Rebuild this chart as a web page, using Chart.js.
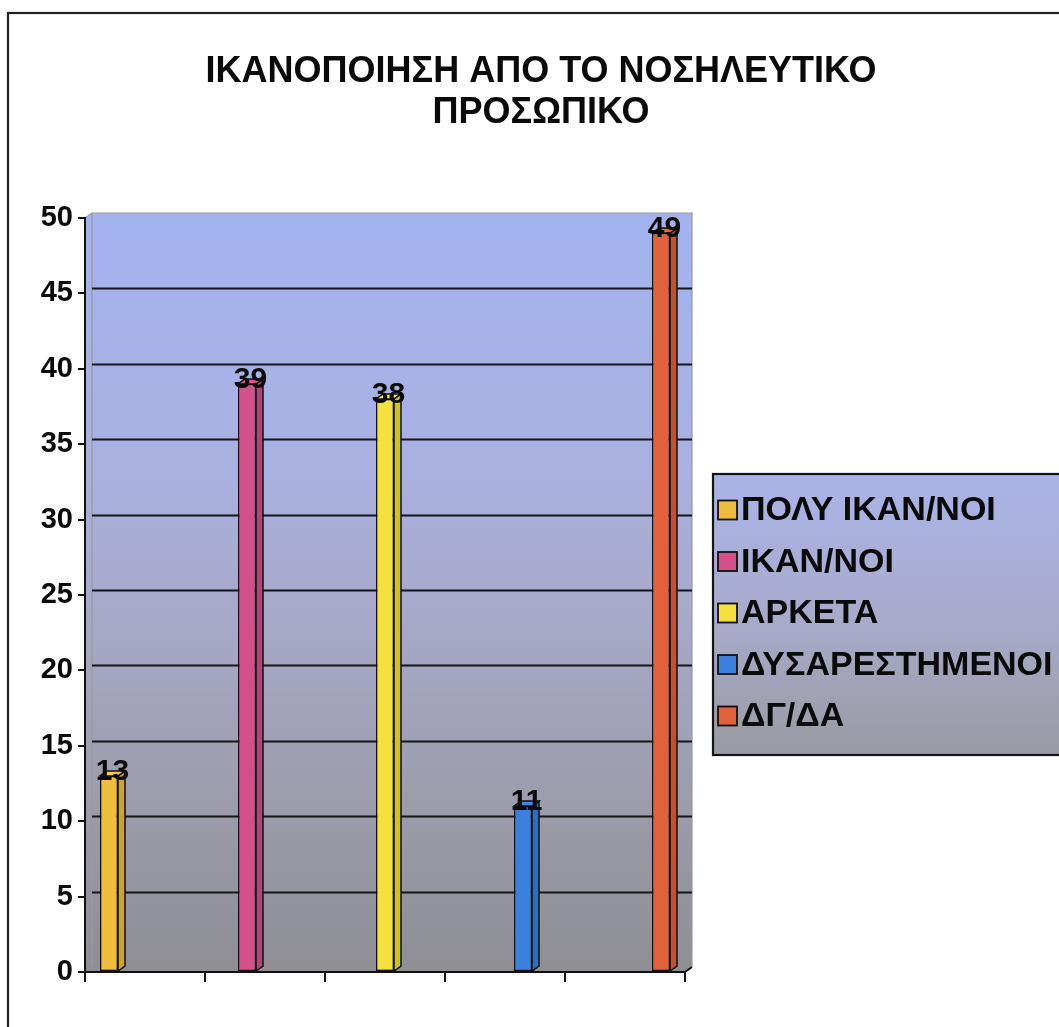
<!DOCTYPE html>
<html>
<head>
<meta charset="utf-8">
<script src="https://cdn.jsdelivr.net/npm/chart.js@4/dist/chart.umd.min.js"></script>
<style>
  html, body { margin: 0; padding: 0; background: #ffffff; overflow: hidden; }
  #wrap { width: 1059px; height: 1027px; }
  canvas { display: block; }
</style>
</head>
<body>
<div id="wrap"><canvas id="chart" width="1059" height="1027"></canvas></div>
<script>
// ---- data ----
const titleLines = ['ΙΚΑΝΟΠΟΙΗΣΗ ΑΠΟ ΤΟ ΝΟΣΗΛΕΥΤΙΚΟ', 'ΠΡΟΣΩΠΙΚΟ'];
const categories = ['', '', '', '', ''];
const seriesNames = ['ΠΟΛΥ ΙΚΑΝ/ΝΟΙ', 'ΙΚΑΝ/ΝΟΙ', 'ΑΡΚΕΤΑ', 'ΔΥΣΑΡΕΣΤΗΜΕΝΟΙ', 'ΔΓ/ΔΑ'];
const seriesValues = [13, 39, 38, 11, 49];
const seriesColors = ['#f0be3e', '#d4508a', '#f5e03e', '#3a80dc', '#e0623c'];
const yMin = 0, yMax = 50, yStep = 5;

// ---- look ----
const FONT = '"Liberation Sans", Arial, Helvetica, sans-serif';
const WALL_DX = 7, WALL_DY = 5;   // depth of the back wall
const BAR_DX = 7, BAR_DY = 5;     // depth of each bar

function shade(hex, f) {
  const n = parseInt(hex.slice(1), 16);
  let r = (n >> 16) & 255, g = (n >> 8) & 255, b = n & 255;
  r = Math.round(r * f); g = Math.round(g * f); b = Math.round(b * f);
  return `rgb(${Math.min(255, r)},${Math.min(255, g)},${Math.min(255, b)})`;
}

// one dataset per answer, each occupying its own category slot
const datasets = seriesNames.map((name, i) => ({
  label: name,
  data: categories.map((_, j) => (j === i ? seriesValues[i] : null)),
  backgroundColor: seriesColors[i],
  borderColor: '#111111',
  borderWidth: 1.5,
  borderSkipped: false,
  categoryPercentage: 0.75,
  barPercentage: 1.0
}));

const depthPlugin = {
  id: 'depth3d',
  beforeDraw(chart) {
    const ctx = chart.ctx;
    const { left: L, right: R, top: T, bottom: B } = chart.chartArea;
    ctx.save();
    ctx.fillStyle = '#ffffff';
    ctx.fillRect(0, 0, chart.width, chart.height);

    // outer frame
    ctx.strokeStyle = '#222222';
    ctx.lineWidth = 2.2;
    ctx.strokeRect(8, 13, chart.width + 40, chart.height + 40);

    // back wall + side wall with the blue-to-grey fill
    const g = ctx.createLinearGradient(0, T - WALL_DY, 0, B);
    g.addColorStop(0, '#a3b3f0');
    g.addColorStop(0.33, '#a9b1e0');
    g.addColorStop(0.55, '#a7a8c6');
    g.addColorStop(0.78, '#9c9cab');
    g.addColorStop(1, '#8e8e93');
    ctx.beginPath();
    ctx.moveTo(L, T);
    ctx.lineTo(L + WALL_DX, T - WALL_DY);
    ctx.lineTo(R + WALL_DX, T - WALL_DY);
    ctx.lineTo(R + WALL_DX, B - WALL_DY);
    ctx.lineTo(R, B);
    ctx.lineTo(L, B);
    ctx.closePath();
    ctx.fillStyle = g;
    ctx.fill();

    // light edges of the wall
    ctx.strokeStyle = '#9a9aa0';
    ctx.lineWidth = 1.2;
    ctx.beginPath();
    ctx.moveTo(L, T);
    ctx.lineTo(L + WALL_DX, T - WALL_DY);
    ctx.lineTo(R + WALL_DX, T - WALL_DY);
    ctx.lineTo(R + WALL_DX, B - WALL_DY);
    ctx.moveTo(L + WALL_DX, T - WALL_DY);
    ctx.lineTo(L + WALL_DX, B - WALL_DY);
    ctx.stroke();

    // gridlines on the back wall
    const yScale = chart.scales.y;
    ctx.strokeStyle = '#151515';
    ctx.lineWidth = 2;
    yScale.ticks.forEach(t => {
      if (t.value <= yMin || t.value >= yMax) return;
      const y = Math.round(yScale.getPixelForValue(t.value) - WALL_DY) + 0.5;
      ctx.beginPath();
      ctx.moveTo(L + WALL_DX, y);
      ctx.lineTo(R + WALL_DX, y);
      ctx.stroke();
    });
    ctx.restore();
  },
  afterDatasetsDraw(chart) {
    const ctx = chart.ctx;
    ctx.save();
    chart.data.datasets.forEach((ds, i) => {
      const meta = chart.getDatasetMeta(i);
      meta.data.forEach((el, j) => {
        const v = ds.data[j];
        if (v === null || v === undefined) return;
        const { x, y, base, width } = el.getProps(['x', 'y', 'base', 'width'], true);
        const l = x - width / 2, r = x + width / 2;
        ctx.lineWidth = 1.5;
        ctx.strokeStyle = '#111111';
        // side face
        ctx.beginPath();
        ctx.moveTo(r, y);
        ctx.lineTo(r + BAR_DX, y - BAR_DY);
        ctx.lineTo(r + BAR_DX, base - BAR_DY);
        ctx.lineTo(r, base);
        ctx.closePath();
        ctx.fillStyle = shade(seriesColors[i], 0.85);
        ctx.fill();
        ctx.stroke();
        // top face
        ctx.beginPath();
        ctx.moveTo(l, y);
        ctx.lineTo(l + BAR_DX, y - BAR_DY);
        ctx.lineTo(r + BAR_DX, y - BAR_DY);
        ctx.lineTo(r, y);
        ctx.closePath();
        ctx.fillStyle = shade(seriesColors[i], 1.05);
        ctx.fill();
        ctx.stroke();
        // value label
        ctx.fillStyle = '#0a0a0a';
        ctx.font = `bold 30px ${FONT}`;
        ctx.textAlign = 'center';
        ctx.textBaseline = 'middle';
        ctx.fillText(String(v), (l + r + BAR_DX) / 2, y - 4);
      });
    });
    ctx.restore();
  },
  afterDraw(chart) {
    const ctx = chart.ctx;
    const { right: R, bottom: B } = chart.chartArea;
    ctx.save();
    // floor edge at the far end of the category axis
    ctx.strokeStyle = '#111111';
    ctx.lineWidth = 2;
    ctx.beginPath();
    ctx.moveTo(R, B);
    ctx.lineTo(R + WALL_DX, B - WALL_DY);
    ctx.stroke();

    // title
    ctx.fillStyle = '#0a0a0a';
    ctx.font = `bold 36px ${FONT}`;
    ctx.textAlign = 'center';
    ctx.textBaseline = 'middle';
    ctx.fillText(titleLines[0], 541, 72);
    ctx.fillText(titleLines[1], 541, 113);

    // legend box
    const bx = 713, by = 474, bw = 400, bh = 281;
    const lg = ctx.createLinearGradient(0, by, 0, by + bh);
    lg.addColorStop(0, '#a9b4e8');
    lg.addColorStop(0.5, '#a9abcc');
    lg.addColorStop(1, '#9a9aa2');
    ctx.fillStyle = lg;
    ctx.fillRect(bx, by, bw, bh);
    ctx.strokeStyle = '#151515';
    ctx.lineWidth = 2.2;
    ctx.strokeRect(bx, by, bw, bh);

    chart.data.datasets.forEach((ds, i) => {
      const cy = 510 + i * 51.5;
      ctx.fillStyle = ds.backgroundColor;
      ctx.fillRect(718, cy - 9.5, 19, 19);
      ctx.strokeStyle = '#111111';
      ctx.lineWidth = 1.8;
      ctx.strokeRect(718, cy - 9.5, 19, 19);
      ctx.fillStyle = '#0a0a0a';
      ctx.font = `bold 34px ${FONT}`;
      ctx.textAlign = 'left';
      ctx.textBaseline = 'middle';
      ctx.fillText(ds.label, 741, cy + 1);
    });
    ctx.restore();
  }
};

new Chart(document.getElementById('chart'), {
  type: 'bar',
  data: { labels: categories, datasets },
  options: {
    responsive: false,
    animation: false,
    devicePixelRatio: 1,
    layout: { padding: { left: 8, top: 218, right: 374, bottom: 45 } },
    plugins: {
      legend: { display: false },
      title: { display: false },
      tooltip: { enabled: false }
    },
    scales: {
      x: {
        offset: true,
        grid: { offset: true, drawOnChartArea: false, drawTicks: true, tickLength: 10, color: '#111111', lineWidth: 2 },
        border: { display: true, color: '#111111', width: 2 },
        ticks: { display: false },
        afterFit(scale) { scale.height = 10; }
      },
      y: {
        min: yMin,
        max: yMax,
        grid: { drawOnChartArea: false, drawTicks: true, tickLength: 7, color: '#111111', lineWidth: 2 },
        border: { display: true, color: '#111111', width: 2 },
        ticks: {
          stepSize: yStep,
          color: '#0a0a0a',
          padding: 5,
          font: { family: FONT, size: 29, weight: 'bold' }
        },
        afterFit(scale) { scale.width = 77; }
      }
    }
  },
  plugins: [depthPlugin]
});
</script>
</body>
</html>
